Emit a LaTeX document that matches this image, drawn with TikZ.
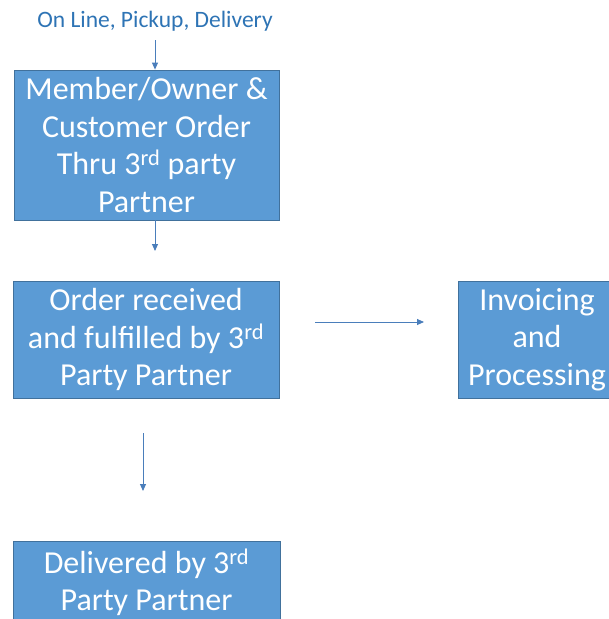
\documentclass[tikz,border=0pt]{standalone}
\usepackage{fontspec}
\setmainfont{Carlito}
\usetikzlibrary{arrows.meta}
\definecolor{boxfill}{HTML}{5B9BD5}
\definecolor{boxedge}{HTML}{41719C}
\definecolor{labelblue}{HTML}{2E74B5}
\definecolor{arrowblue}{HTML}{4A7EBB}
\begin{document}
\begin{tikzpicture}[x=1pt,y=-1pt,
  boxshape/.style={draw=boxedge,line width=0.8pt,fill=boxfill,inner sep=0pt},
  flowtext/.style={text=white,align=center,inner sep=0pt,font=\fontsize{32}{37.5}\selectfont},
  flowbox/.style={boxshape,flowtext},
  flowarrow/.style={draw=arrowblue,line width=0.9pt,-{Triangle[length=7pt,width=6pt]}}]
\clip (0,0) rectangle (609,619);
\useasboundingbox (0,0) rectangle (609,619);
\fill[white] (0,0) rectangle (609,619);
\node[text=labelblue,font=\fontsize{23.5}{26}\selectfont] (lbl) at (155,21) {On Line, Pickup, Delivery};
\node[flowbox,minimum width=265pt,minimum height=150pt] (b1) at (146.5,145)
  {Member/Owner \&\\Customer Order\\Thru 3\textsuperscript{rd} party\\Partner};
\node[flowbox,minimum width=266pt,minimum height=117pt] (b2) at (146,339.5)
  {Order received\\and fulfilled by 3\textsuperscript{rd}\\Party Partner};
\node[flowbox,minimum width=158pt,minimum height=117pt] (b4) at (537,339.5)
  {Invoicing\\and\\Processing};
\node[boxshape,minimum width=267pt,minimum height=80pt] (b3) at (146.5,581) {};
\node[flowtext] (b3t) at (146.5,582.5) {Delivered by 3\textsuperscript{rd}\\Party Partner};
\coordinate (a1s) at (155,40);
\coordinate (a2e) at (155,251);
\coordinate (a3s) at (315,322);
\coordinate (a3e) at (424,322);
\coordinate (a4s) at (143,433);
\coordinate (a4e) at (143,491);
\draw[flowarrow] (a1s) -- (b1.north -| a1s);
\draw[flowarrow] (b1.south -| a2e) -- (a2e);
\draw[flowarrow] (a3s) -- (a3e);
\draw[flowarrow] (a4s) -- (a4e);
\end{tikzpicture}
\end{document}
